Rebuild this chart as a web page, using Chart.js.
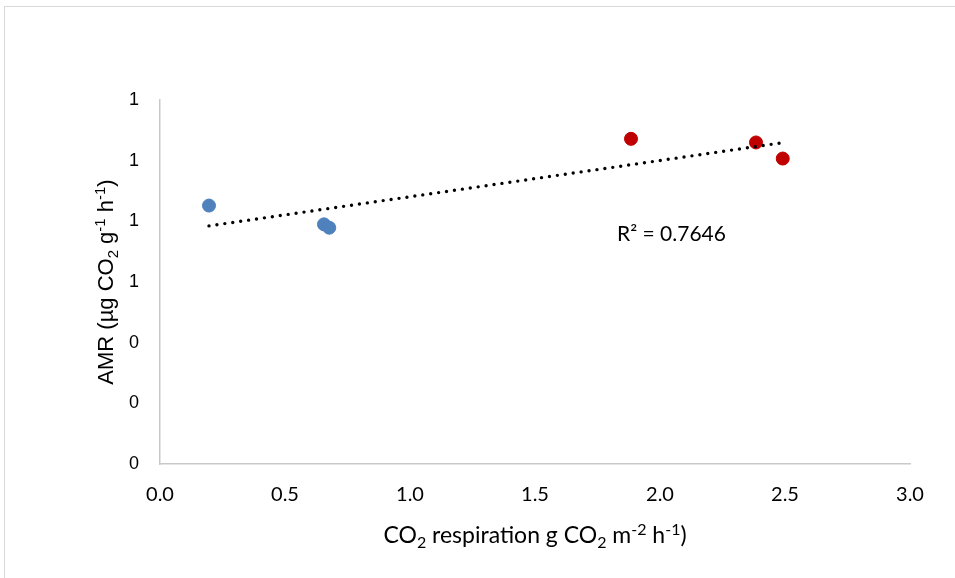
<!DOCTYPE html>
<html>
<head>
<meta charset="utf-8">
<script src="https://cdn.jsdelivr.net/npm/chart.js@4.4.1/dist/chart.umd.min.js"></script>
<style>
  html, body { margin: 0; padding: 0; background: #ffffff; }
  #wrap { position: relative; width: 955px; height: 578px; overflow: hidden; }
</style>
</head>
<body>
<div id="wrap"><canvas id="c" width="955" height="578"></canvas></div>
<script>
// ---- data ----
const blueX = [0.196, 0.656, 0.677];
const blueY = [0.852, 0.790, 0.779];
const redX = [1.884, 2.384, 2.491];
const redY = [1.072, 1.060, 1.007];
const xTicks = [0, 0.5, 1.0, 1.5, 2.0, 2.5, 3.0];
const yTicks = [0, 0.2, 0.4, 0.6, 0.8, 1.0, 1.2];
const rSquaredLabel = "R² = 0.7646";
// axis titles as runs: [text, kind] where kind: n = normal, b = subscript, p = superscript
const xTitleRuns = [["CO", "n"], ["2", "b"], [" respiration g CO", "n"], ["2", "b"], [" m", "n"], ["-2", "p"], [" h", "n"], ["-1", "p"], [")", "n"]];
const yTitleRuns = [["AMR (µg CO", "n"], ["2", "b"], [" g", "n"], ["-1", "p"], [" h", "n"], ["-1", "p"], [")", "n"]];

// linear trend over all points (computed from the data)
const allX = blueX.concat(redX);
const allY = blueY.concat(redY);
const n = allX.length;
const mx = allX.reduce((a, b) => a + b, 0) / n;
const my = allY.reduce((a, b) => a + b, 0) / n;
let sxy = 0, sxx = 0;
for (let i = 0; i < n; i++) { sxy += (allX[i] - mx) * (allY[i] - my); sxx += (allX[i] - mx) ** 2; }
const slope = sxy / sxx, intercept = my - slope * mx;
const xmin = Math.min(...allX), xmax = Math.max(...allX);
const trend = [xmin, xmax].map(x => ({ x: x, y: intercept + slope * x }));

const toPts = (xs, ys) => xs.map((x, i) => ({ x: x, y: ys[i] }));

const calibri = "Lato, 'Open Sans', sans-serif";
const arial = "'Liberation Sans', Arial, sans-serif";

function drawRuns(ctx, runs, family, size, cx, cy) {
  const small = Math.round(size * 0.68);
  const fontFor = k => (k === 'n' ? size : small) + 'px ' + family;
  let total = 0;
  runs.forEach(r => { ctx.font = fontFor(r[1]); total += ctx.measureText(r[0]).width; });
  let x = cx - total / 2;
  ctx.textAlign = 'left';
  ctx.textBaseline = 'alphabetic';
  const base = cy + size * 0.36;
  runs.forEach(r => {
    ctx.font = fontFor(r[1]);
    let y = base;
    if (r[1] === 'b') y = base + size * 0.22;
    if (r[1] === 'p') y = base - size * 0.38;
    ctx.fillText(r[0], x, y);
    x += ctx.measureText(r[0]).width;
  });
}

const frame = {
  id: 'frame',
  beforeDraw(chart) {
    const ctx = chart.ctx;
    ctx.save();
    ctx.fillStyle = '#ffffff';
    ctx.fillRect(0, 0, chart.width, chart.height);
    ctx.strokeStyle = '#d9d9d9';
    ctx.lineWidth = 1;
    ctx.strokeRect(4.5, 6.5, 1000, 1000);
    ctx.restore();
  }
};

const labels = {
  id: 'labels',
  afterDraw(chart) {
    const ctx = chart.ctx;
    const xs = chart.scales.x, ys = chart.scales.y;
    const ca = chart.chartArea;
    ctx.save();
    ctx.fillStyle = '#000000';
    ctx.font = "21px " + calibri;
    ctx.textBaseline = 'middle';
    ctx.textAlign = 'left';
    ctx.fillText(rSquaredLabel, xs.getPixelForValue(1.828), ys.getPixelForValue(0.757));
    // x title
    drawRuns(ctx, xTitleRuns, calibri, 23, (ca.left + ca.right) / 2, 535);
    // y title
    ctx.save();
    ctx.translate(105, (ca.top + ca.bottom) / 2);
    ctx.rotate(-Math.PI / 2);
    drawRuns(ctx, yTitleRuns, arial, 22, 0, 0);
    ctx.restore();
    ctx.restore();
  }
};

new Chart(document.getElementById('c'), {
  type: 'scatter',
  data: {
    datasets: [
      { data: toPts(blueX, blueY), backgroundColor: '#4f81bd', borderColor: '#4f81bd', pointRadius: 6.5, pointHoverRadius: 6.5, order: 1 },
      { data: toPts(redX, redY), backgroundColor: '#c00000', borderColor: '#c00000', pointRadius: 6.5, pointHoverRadius: 6.5, order: 1 },
      { type: 'line', data: trend, borderColor: '#000000', borderWidth: 3.4, borderDash: [0, 8], borderCapStyle: 'round', pointRadius: 0, fill: false, order: 0 }
    ]
  },
  options: {
    responsive: false,
    animation: false,
    events: [],
    layout: { padding: { left: 94, top: 100, right: 45, bottom: 0 } },
    plugins: { legend: { display: false }, tooltip: { enabled: false } },
    scales: {
      x: {
        type: 'linear', min: 0, max: 3,
        afterBuildTicks: s => { s.ticks = xTicks.map(v => ({ value: v })); },
        afterFit: s => { s.height = 114; },
        grid: { display: false, drawTicks: false },
        border: { display: true, color: '#c9c9c9', width: 1.5 },
        ticks: { color: '#000000', padding: 19, font: { family: calibri, size: 20 }, callback: v => v.toFixed(1) },
        title: { display: false }
      },
      y: {
        type: 'linear', min: 0, max: 1.2,
        afterBuildTicks: s => { s.ticks = yTicks.map(v => ({ value: v })); },
        afterFit: s => { s.width = 66; },
        grid: { display: false, drawTicks: false },
        border: { display: true, color: '#c9c9c9', width: 1.5 },
        ticks: { color: '#000000', padding: 21, font: { family: arial, size: 18 }, callback: v => v.toFixed(0) },
        title: { display: false }
      }
    }
  },
  plugins: [frame, labels]
});
</script>
</body>
</html>
